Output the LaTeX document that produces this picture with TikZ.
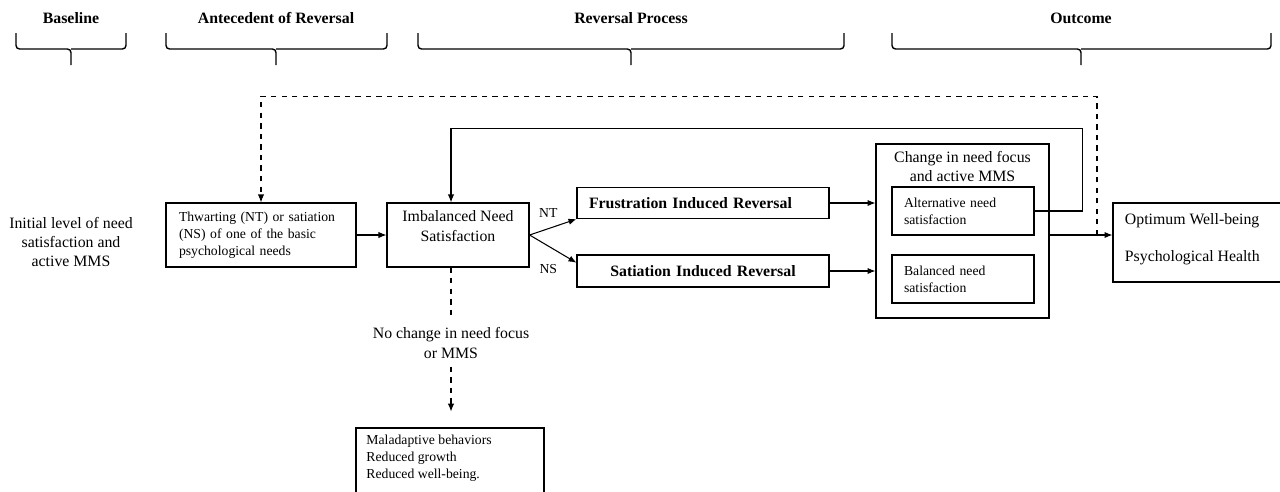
\documentclass[tikz,border=0pt]{standalone}
\usepackage{fontspec}
\setmainfont{Liberation Serif}
\usetikzlibrary{arrows.meta, positioning, calc}

\begin{document}
\begin{tikzpicture}[>={Latex[length=4.5pt,width=3.6pt]}, x=0.02cm, y=-0.02cm, line width=0.6pt,
  every node/.style={font=\fontsize{9}{11}\selectfont},
  box/.style={draw, line width=0.7pt, inner sep=0pt},
  sm/.style={font=\fontsize{7.8}{9.6}\selectfont},
  hdr/.style={font=\fontsize{9}{11}\selectfont\bfseries},
  lbl/.style={inner sep=0pt, align=center}]

\useasboundingbox (0,0) rectangle (1280,491);

%\draw[step=50,color=gray!30] (0,0) grid (1280,491);

\foreach \xa/\xb/\xm/\nm/\txt in {16/126/71/hbase/Baseline, 166/387/276/hante/Antecedent of Reversal, 418/844/631/hproc/Reversal Process, 892/1271/1081/hout/Outcome}{
  \node[hdr] (\nm) at (\xm,18) {\txt};
  \draw[line width=0.8pt, rounded corners=2pt] (\xa,33) -- (\xa,49) -- (\xm,49) -- (\xm,65);
  \draw[line width=0.8pt, rounded corners=2pt] (\xb,33) -- (\xb,49) -- (\xm,49);
}

\node[lbl] (init) at (71,242) {Initial level of need\\satisfaction and\\active MMS};

\node[box, sm, minimum width=3.8cm, minimum height=1.28cm, inner xsep=0.26cm, text width=3.28cm, align=left] (thw) at (261,235)
  {Thwarting (NT) or satiation\\(NS) of one of the basic\\psychological needs};

\node[box, minimum width=2.84cm, minimum height=1.28cm] (imb) at (458,235) {};
\node[lbl, below=4.5pt of imb.north] (imbtx) {Imbalanced Need\\Satisfaction};

\node[box, hdr, minimum width=5.04cm, minimum height=0.62cm, inner xsep=0.24cm, text width=4.56cm, align=left] (fru) at (703,203) {Frustration Induced Reversal};
\node[box, hdr, minimum width=5.04cm, minimum height=0.64cm, inner xsep=0.24cm, text width=4.56cm, align=center] (sat) at (703,271) {Satiation Induced Reversal};

\node[box, minimum width=3.46cm, minimum height=3.48cm] (chg) at (962.5,231) {};
\node[lbl, below=4pt of chg.north] (chgtx) {Change in need focus\\and active MMS};
\node[box, sm, minimum width=2.84cm, minimum height=0.96cm, inner xsep=0.24cm, text width=2.36cm, align=left] (alt) at (963,211) {Alternative need\\satisfaction};
\node[box, sm, minimum width=2.84cm, minimum height=0.96cm, inner xsep=0.24cm, text width=2.36cm, align=left] (bal) at (963,279) {Balanced need\\satisfaction};

\node[box, minimum width=3.74cm, minimum height=1.58cm] (opt) at (1206.5,242.5) {};
\node[lbl, align=left, right=0.24cm of opt.west, yshift=2pt] (opttx) {Optimum Well-being\\[10pt]Psychological Health};

\node[lbl] (nochg) at (451,343) {No change in need focus\\or MMS};

\node[box, minimum width=3.76cm, minimum height=1.44cm] (mal) at (450,464) {};
\node[lbl, sm, align=left, below right=4pt and 6pt of mal.north west] (maltx) {Maladaptive behaviors\\Reduced growth\\Reduced well-being.};

\draw[->] (thw) -- (imb);
\draw[->] (imb.east) -- (fru.south west) node[sm, pos=0.4, above=6pt, inner sep=0pt] (nt) {NT};
\draw[->] (imb.east) -- ($(sat.north west)!0.25!(sat.south west)$) node[sm, pos=0.4, below=10pt, inner sep=0pt] (ns) {NS};
\draw[->] (fru.east) -- (fru.east -| chg.west);
\draw[->] (sat.east) -- (sat.east -| chg.west);
\draw[->] (chg.east |- thw.east) -- (opt.west |- thw.east);
\draw[->] (alt.east) -- ++(48,0) |- ($(imb.north)+(-7,-74)$) -- ($(imb.north)+(-7,0)$);

\coordinate (fb) at (1097,235);
\draw[dashed, ->] (fb) |- ($(thw.north)+(0,-106)$) -- (thw.north);

\draw[dashed] (nochg.north |- imb.south) -- ([yshift=7pt]nochg.north);
\draw[dashed, ->] ([yshift=-4.5pt]nochg.south) -- ([yshift=9pt]mal.north -| nochg.south);

\end{tikzpicture}
\end{document}
